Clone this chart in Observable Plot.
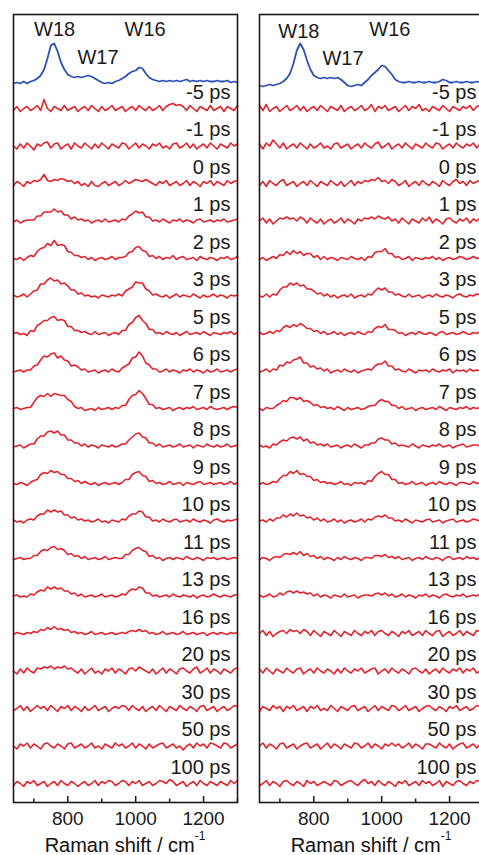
<!DOCTYPE html>
<html><head><meta charset="utf-8">
<script src="https://cdn.jsdelivr.net/npm/d3@7"></script>
<script src="https://cdn.jsdelivr.net/npm/@observablehq/plot@0.6"></script>
<style>
html,body{margin:0;padding:0;background:#fff;}
#wrap{position:relative;width:479px;height:855px;overflow:hidden;font-family:"Liberation Sans",Arial,Helvetica,sans-serif;color:#111;}
.panel{position:absolute;top:0;}
.xlabel{position:absolute;top:835px;width:224px;text-align:center;font-size:20px;line-height:20px;white-space:nowrap;}
.xlabel span{position:relative;top:-12px;font-size:12px;}
</style></head>
<body><div id="wrap"></div>
<script>
// Raman shift grid (cm-1)
const shift = [640,650,660,670,680,690,700,710,720,730,
 740,750,760,770,780,790,800,810,820,830,
 840,850,860,870,880,890,900,910,920,930,
 940,950,960,970,980,990,1000,1010,1020,1030,
 1040,1050,1060,1070,1080,1090,1100,1110,1120,1130,
 1140,1150,1160,1170,1180,1190,1200,1210,1220,1230,
 1240,1250,1260,1270,1280,1290,1300];
const delays = ["-5 ps","-1 ps","0 ps","1 ps","2 ps","3 ps","5 ps","6 ps","7 ps","8 ps","9 ps","10 ps","11 ps","13 ps","16 ps","20 ps","30 ps","50 ps","100 ps"];
const majorTicks = [800, 1000, 1200];
const minorTicks = [700, 900, 1100, 1300];
const peakNames = ["W18", "W17", "W16"];
const peakPosLeft = [761, 889, 1028];
const peakLiftLeft = [47, 19, 47];
const peakPosRight = [756, 886, 1024];
const peakLiftRight = [48, 21, 50];

// Ground-state (blue) spectra
const blueLeft = [-1,0,-1,1,-1,1,2,4,7,13,
 24,37,39,31,20,13,8,6,5,6,
 5,6,7,6,4,2,0,-1,0,-1,
 1,2,4,6,9,11,12,15,14,9,
 5,3,2,1,2,1,2,1,2,1,
 2,3,1,2,1,2,1,2,1,1,
 2,1,1,2,0,1,0];
const blueRight = [0,-1,0,1,0,1,2,4,7,12,
 22,35,42,36,25,16,10,8,7,8,
 7,8,7,8,6,3,0,-1,0,1,
 0,3,6,10,13,16,20,19,15,11,
 6,4,3,3,4,3,3,4,3,3,
 4,3,3,4,6,5,3,3,4,3,
 3,4,3,3,4,3,3];

// Left panel difference spectra
const L_m5 = [-2,2,-3,0,2,-2,0,3,-2,9, 0,-3,2,0,-2,3,-2,0,2,-3, 0,2,-2,3,0,-3,2,-2,0,3, -2,0,2,-3,0,2,-2,3,0,-2, 2,-2,0,3,-2,2,4,5,3,4, 2,-2,3,0,-3,2,0,-2,3,-2, 0,2,-3,2,0,-2,3];
const L_m1 = [0,-3,2,-2,3,0,-4,2,0,3, 4,-2,2,3,-3,0,2,-3,3,0, -2,3,0,-3,2,-2,3,0,-3,2, 0,-2,3,2,-3,0,3,-2,2,0, -3,2,0,3,-2,0,-3,2,3,-2, 0,3,-2,2,-3,0,2,-2,3,0, -3,2,0,-2,3,0,2];
const L_0 = [-2,2,0,-3,2,0,3,2,4,9, 3,2,4,3,5,4,2,3,0,2, -2,0,-3,2,-2,-3,0,2,-2,0, 2,-2,0,3,0,2,4,3,2,4, 2,0,-2,2,0,3,-2,0,2,-2, 0,3,-2,2,0,-3,2,0,3,-2, 2,0,-2,3,0,2,3];
const L_1 = [-1,1,-2,0,1,1,1,5,5,9, 9,9,12,9,10,6,6,2,4,1, 2,0,1,-2,0,1,-1,2,-1,0, 1,-1,2,1,5,7,10,8,9,4, 4,0,1,-1,2,0,-2,1,0,2, -1,1,0,-2,1,2,-1,0,1,-1, 1,0,2,-1,0,1,2];
const L_2 = [0,-1,1,-2,1,3,2,7,10,11, 15,13,18,13,14,13,7,6,3,3, 1,2,-1,1,-2,0,1,-1,0,2, -1,1,1,2,6,7,11,12,8,7, 2,3,0,2,-1,1,0,3,-1,1, 2,-1,0,1,-2,2,0,-1,1,0, -2,1,0,2,-1,0,2];
const L_3 = [1,-1,0,2,-1,2,5,6,12,12, 16,18,15,16,12,13,10,6,6,2, 3,0,1,-1,0,-2,1,0,-1,1, 0,2,0,5,7,9,14,13,13,7, 5,1,2,0,-1,1,-2,0,2,-1, 1,0,-1,2,0,-2,1,-1,0,2, -1,1,0,-2,1,0,1];
const L_5 = [0,1,-1,0,-2,3,2,8,10,13, 13,16,17,13,14,13,7,7,3,3, 1,2,0,-1,2,-1,0,1,-2,0, 1,-1,3,3,9,11,16,18,13,10, 4,4,0,1,-1,2,0,-1,1,-2, 0,2,-1,0,1,-1,2,0,-2,1, 0,-1,1,0,2,-1,1];
const L_6 = [-1,0,1,-1,1,1,5,6,11,15, 14,17,18,13,15,11,10,5,6,4, 1,2,-1,0,1,-2,0,1,-1,2, 0,-1,3,5,7,13,14,19,15,8, 6,2,2,-1,0,2,-1,1,0,-2, 1,0,2,-1,1,0,-2,1,-1,0, 2,-1,0,1,-1,1,2];
const L_7 = [0,1,-1,0,1,1,6,11,13,12, 15,12,15,14,13,13,9,7,2,0, 1,-2,-1,0,-2,1,-1,0,1,-1, 1,0,3,3,9,13,14,18,15,10, 4,4,0,1,-1,0,1,-2,0,1, -1,1,0,2,-1,0,1,-1,2,0, -1,0,1,-1,1,2,1];
const L_8 = [-1,0,1,-2,0,2,2,7,10,10, 14,15,13,15,11,11,6,6,3,3, 0,2,-1,1,0,-2,1,0,-1,1, -1,0,2,2,6,9,12,13,9,8, 3,3,0,2,-1,0,1,-1,0,2, -1,0,1,-2,1,0,-1,2,0,-1, 1,-1,0,2,-1,0,1];
const L_9 = [0,-1,1,0,-2,1,3,4,9,11, 10,13,11,12,9,9,5,5,2,3, 0,2,0,-1,1,-2,0,1,-1,0, 1,-1,1,4,4,9,11,12,8,7, 2,3,0,1,-1,0,2,-1,0,1, -2,1,0,-1,1,2,-1,0,1,-1, 0,1,-1,0,2,-1,1];
const L_10 = [1,-1,0,-2,1,2,1,5,7,7, 11,9,11,9,10,6,6,3,4,1, 2,0,1,-1,0,2,-1,0,-2,1, 0,-1,2,1,5,7,7,10,9,4, 4,0,1,-1,2,0,-1,1,2,-1, 0,1,-1,2,0,-1,1,0,-2,1, 2,0,-1,1,0,1,2];
const L_11 = [-1,0,1,-1,0,0,3,3,7,9, 8,11,12,9,10,8,4,5,2,3, 0,2,-1,0,1,-1,0,2,-1,0, 1,0,0,4,4,8,10,11,8,7, 2,3,0,1,-2,0,1,-1,1,0, -1,2,0,-1,1,0,-2,1,0,1, -1,0,1,-1,0,1,0];
const L_13 = [0,1,-1,0,-1,2,1,4,6,5, 9,7,9,7,8,5,5,2,3,0, 2,-1,0,1,-1,0,2,-1,0,1, -1,0,2,1,5,7,6,9,8,3, 3,0,1,-1,0,1,-1,2,0,-1, 1,0,-1,1,-2,0,1,-1,0,2, 0,-1,1,0,-1,1,1];
const L_16 = [-1,1,0,-1,1,0,2,1,4,3, 6,4,7,4,5,3,4,1,2,0, 1,-1,0,2,-1,0,1,-1,0,1, -1,0,1,0,2,3,2,4,2,3, 0,1,-1,0,2,-1,0,1,-1,0, 2,-1,0,1,-1,0,1,-2,0,1, -1,1,0,-1,1,0,1];
const L_20 = [0,-3,2,-2,3,0,-2,3,2,4, 3,5,2,4,3,5,2,3,0,-2, 2,-3,0,3,-2,0,-3,2,0,3, -2,2,0,-3,2,3,0,4,2,0, -2,2,-3,0,3,-2,2,0,-3,2, 3,0,-2,2,4,-2,0,3,-2,2, 0,-3,2,0,-2,2,3];
const L_30 = [-2,0,3,-2,2,-3,0,3,0,2, -2,3,0,-3,2,0,3,-2,2,0, -3,2,-2,0,3,-2,0,2,-3,0, 2,0,3,2,-2,3,0,-2,2,-3, 0,2,-2,3,0,-3,2,0,-2,3, 0,-2,2,0,-3,2,3,-2,0,2, -3,0,2,-2,0,3,2];
const L_50 = [0,-3,2,0,3,-2,2,0,-3,2, 3,0,-2,2,0,-3,2,3,-2,0, 2,-2,0,3,-2,0,-3,2,0,-2, 3,0,2,-2,0,3,-2,2,0,-3, 2,-2,0,2,3,-2,0,2,-2,0, -4,0,2,-2,3,0,2,-2,3,2, 0,-2,3,2,-2,0,2];
const L_100 = [-2,2,0,-3,2,0,3,-2,0,2, -3,0,2,-2,3,0,-2,2,0,-3, 0,2,-2,0,3,-2,2,0,3,2, -2,0,3,2,-2,2,0,3,-2,0, 2,-2,0,3,2,0,4,2,-2,0, 2,-3,0,2,-2,3,0,-2,2,0, -2,2,0,-2,3,0,3];

// Right panel difference spectra
const R_m5 = [3,-2,4,-3,0,2,-3,0,3,-2, 0,3,-2,2,-3,0,2,-2,3,0, -3,2,0,-2,3,-3,0,2,-2,0, 3,-2,0,4,-3,2,0,3,-2,0, 2,-3,0,3,-2,2,0,4,-2,0, -3,2,0,-2,3,0,-3,2,0,-2, 2,0,3,-2,2,3,2];
const R_m1 = [2,-3,3,0,6,2,-2,3,-3,0, 2,-2,3,0,-3,2,-2,0,3,-2, 0,-3,2,3,-2,0,2,-3,0,2, -2,3,0,-2,2,4,-2,0,3,-3, 0,2,-2,3,0,-3,2,0,-2,3, 0,-2,3,2,-3,0,2,-2,3,0, -2,2,0,3,-2,2,3];
const R_0 = [-2,2,-3,3,0,-2,2,4,-2,0, 2,-3,0,2,-2,3,0,-3,2,0, -2,3,0,-2,2,-3,0,3,-2,2, 0,3,2,4,3,6,2,3,0,4, 2,-2,0,3,-3,0,2,-2,3,0, -2,2,0,-3,3,0,-2,2,4,0, 2,-2,3,0,2,3,3];
const R_1 = [0,3,-2,2,-3,0,3,2,4,2, 3,0,4,2,-2,3,0,-2,2,-3, 0,2,-2,0,3,-2,2,0,-3,2, 0,3,2,4,2,5,3,2,4,0, 2,-2,3,0,-3,2,0,-2,3,0, 4,-2,2,0,-3,2,3,0,-2,2, 0,3,-2,2,0,3,2];
const R_2 = [-1,1,-2,0,2,0,4,3,7,4, 8,5,7,3,5,5,1,3,-1,2, -1,1,0,-2,1,0,-1,2,0,-1, 1,-2,2,1,6,7,7,10,5,5, 1,2,-1,0,2,-2,1,0,-1,1, 0,2,-1,1,-2,0,1,-1,0,2, 1,-1,0,2,0,1,2];
const R_3 = [0,-1,2,-1,2,1,6,9,9,13, 11,13,10,11,7,7,5,2,3,0, 2,-1,1,-2,0,1,-1,2,-2,0, 1,-1,2,1,5,8,6,8,4,4, 1,2,0,-1,2,-1,0,1,-2,0, 1,-1,2,0,-1,1,0,-2,1,2, 0,-1,1,0,2,1,2];
const R_5 = [1,-1,0,2,0,3,2,6,8,6, 9,7,10,8,5,5,2,3,0,2, -1,0,2,-1,1,-2,0,1,-1,2, 0,-1,2,1,5,7,6,9,4,4, 3,0,1,-2,0,1,-1,2,0,-1, 1,0,-2,1,2,-1,0,1,-1,0, 2,0,-1,1,0,2,1];
const R_6 = [-1,0,2,-1,2,1,6,5,9,8, 11,12,14,8,8,4,5,2,3,0, 2,-2,0,1,-1,2,0,-1,1,-2, 0,1,2,1,5,7,7,10,5,5, 1,2,0,-1,2,0,-2,1,0,1, -1,2,0,-1,1,0,2,-2,1,0, 1,-1,2,0,1,0,2];
const R_7 = [0,-2,1,0,0,3,5,8,7,11, 11,9,11,7,8,6,3,4,1,2, 0,1,-1,2,0,-2,1,-1,0,1, -1,0,2,3,3,7,9,7,7,3, 3,0,2,-1,0,1,-2,0,1,-1, 0,1,-1,2,0,-2,1,0,-1,1, 0,2,-1,1,0,1,2];
const R_8 = [1,-1,0,-2,2,1,4,6,5,8, 9,7,9,5,7,3,4,1,2,0, 2,-1,0,1,-2,0,1,-1,2,0, -2,1,1,3,3,7,8,6,6,2, 3,0,1,0,-1,2,0,-2,1,0, -1,1,0,2,-1,0,1,-2,0,1, 2,-1,0,1,1,0,2];
const R_9 = [-1,1,-1,0,2,1,5,8,8,12, 10,13,9,10,7,7,3,4,1,2, 0,1,-1,0,2,-1,0,-2,1,0, 1,-1,3,2,7,10,12,9,9,4, 4,0,1,-1,0,2,-1,0,1,-2, 0,1,-1,2,0,-1,1,0,-2,1, 1,0,-1,2,0,1,2];
const R_10 = [0,1,-1,2,0,3,3,6,4,7, 5,8,5,6,3,4,1,3,0,2, -1,0,2,-1,1,-2,0,1,-1,0, 2,-1,2,1,4,5,4,6,3,3, 0,1,-1,2,0,-2,1,0,-1,1, 2,-1,0,1,-2,0,1,2,-1,0, 1,-1,0,2,1,0,1];
const R_11 = [-1,1,0,-2,1,2,1,4,5,4, 6,4,7,3,5,2,3,0,2,-1, 1,0,-2,1,-1,2,0,-1,1,0, -2,1,1,0,3,3,2,4,1,2, 0,2,-1,0,1,-2,0,1,-1,2, 0,-1,1,0,-2,1,2,-1,0,1, -1,2,0,1,-1,1,2];
const R_13 = [1,-1,0,2,-1,0,3,1,4,5, 3,5,3,4,2,3,0,2,-1,1, 0,-2,1,0,-1,2,-1,0,1,-2, 0,1,1,0,2,3,1,3,0,2, -1,0,2,-1,1,0,-2,1,0,2, -1,1,0,-2,1,2,0,-1,1,0, 2,-1,0,1,0,2,1];
const R_16 = [0,3,-2,2,-3,0,2,3,0,4, 2,3,0,4,2,-2,3,0,-3,2, 0,-2,3,0,-3,2,0,-2,3,0, -2,2,0,3,-2,2,3,0,-2,2, 0,-3,2,0,3,-2,0,2,-2,3, 0,-2,2,3,-3,0,2,-2,0,3, -2,2,0,-2,3,2,3];
const R_20 = [2,-2,3,0,-3,2,0,-2,3,0, -2,2,3,-3,0,2,-2,3,0,-2, 2,0,-3,2,-2,3,0,-2,2,0, 3,-2,0,2,3,-3,0,2,-2,3, 0,-2,2,0,-3,2,3,0,-2,2, -3,0,2,-2,3,0,-2,2,0,3, -2,2,0,3,-2,0,2];
const R_30 = [-3,2,0,-2,3,0,2,-3,2,0, 3,-2,0,2,-3,2,0,3,-2,0, -2,3,0,-3,2,0,-2,2,3,-2, 0,2,-3,0,3,-2,2,0,-2,3, 2,-2,0,3,-2,0,2,-3,0,2, 3,0,-2,2,0,-3,2,0,3,-2, 0,2,-2,0,3,2,2];
const R_50 = [0,3,-2,2,0,-3,2,3,-2,0, 2,-3,0,2,3,-2,0,2,-3,0, 3,-2,2,0,-3,2,0,-2,3,2, -2,0,3,-2,2,0,-3,2,0,3, 0,2,-2,0,3,-2,2,0,-3,2, 2,0,-2,3,0,-2,2,-3,0,2, 3,-2,0,2,-2,2,3];
const R_100 = [-2,0,3,-2,2,0,-3,2,3,0, -2,2,0,-3,3,0,2,-2,0,2, 0,-2,3,2,-2,0,2,3,0,-2, 2,4,0,2,-2,3,0,-2,2,0, -3,2,0,3,-2,0,2,-2,3,0, 2,-2,0,3,-3,2,0,-2,2,3, 0,-2,2,0,3,2,3];

const leftTraces = [L_m5,L_m1,L_0,L_1,L_2,L_3,L_5,L_6,L_7,L_8,L_9,L_10,L_11,L_13,L_16,L_20,L_30,L_50,L_100];
const rightTraces = [R_m5,R_m1,R_0,R_1,R_2,R_3,R_5,R_6,R_7,R_8,R_9,R_10,R_11,R_13,R_16,R_20,R_30,R_50,R_100];

const RED = "#e2232b", BLUE = "#2c50b6", INK = "#1a1a1a";
const FONT = '"Liberation Sans", Arial, Helvetica, sans-serif';
const problems = [];

function panel(blue, reds, blueBase, peakPos, peakLift, tag) {
  const base = k => 694 - 37.5 * k;
  const rows = [];
  reds.forEach((vals, k) => {
    if (vals.length !== shift.length) problems.push(tag + k + ":" + vals.length);
    vals.forEach((v, i) => rows.push({x: shift[i], y: base(k) + v, k}));
  });
  if (blue.length !== shift.length) problems.push(tag + "blue:" + blue.length);
  const blueRows = blue.map((v, i) => ({x: shift[i], y: blueBase + v}));
  const labels = delays.map((d, k) => ({text: d, y: base(k) + 10}));
  const peaks = peakNames.map((p, j) => ({text: p, x: peakPos[j], y: blueBase + peakLift[j]}));
  return Plot.plot({
    width: 246, height: 830,
    marginLeft: 13, marginRight: 9, marginTop: 14, marginBottom: 28,
    x: {domain: [640, 1300]},
    y: {domain: [0, 788], axis: null},
    style: {fontFamily: FONT, background: "white", color: INK, overflow: "visible"},
    marks: [
      Plot.line(rows, {x: "x", y: "y", z: "k", stroke: RED, strokeWidth: 1.6, strokeLinejoin: "round"}),
      Plot.line(blueRows, {x: "x", y: "y", stroke: BLUE, strokeWidth: 1.8, strokeLinejoin: "round"}),
      Plot.text(labels, {y: "y", text: "text", frameAnchor: "right", textAnchor: "end", lineAnchor: "bottom", dx: -7, fontSize: 20, fill: INK}),
      Plot.text(peaks, {x: "x", y: "y", text: "text", textAnchor: "middle", lineAnchor: "bottom", fontSize: 20, fill: INK}),
      Plot.ruleX(majorTicks, {x: d => d, y1: 0, y2: 6, stroke: INK, strokeWidth: 1.5}),
      Plot.ruleX(minorTicks, {x: d => d, y1: 0, y2: 3.5, stroke: INK, strokeWidth: 1.5}),
      Plot.axisX({ticks: majorTicks, tickSize: 0, tickPadding: 9, fontSize: 19, tickFormat: d => String(d), label: null, fill: INK}),
      Plot.frame({stroke: INK, strokeWidth: 1.6})
    ]
  });
}

const wrap = document.getElementById("wrap");
const left = panel(blueLeft, leftTraces, 720, peakPosLeft, peakLiftLeft, "L");
left.classList.add("panel"); left.style.left = "0px";
wrap.appendChild(left);
const right = panel(blueRight, rightTraces, 717, peakPosRight, peakLiftRight, "R");
right.classList.add("panel"); right.style.left = "246px";
wrap.appendChild(right);

for (const lx of [13, 259]) {
  const d = document.createElement("div");
  d.className = "xlabel";
  d.style.left = lx + "px";
  d.innerHTML = "Raman shift / cm<span>-1</span>";
  wrap.appendChild(d);
}
if (problems.length) throw new Error("length mismatch: " + problems.join(", "));
</script>
</body></html>
